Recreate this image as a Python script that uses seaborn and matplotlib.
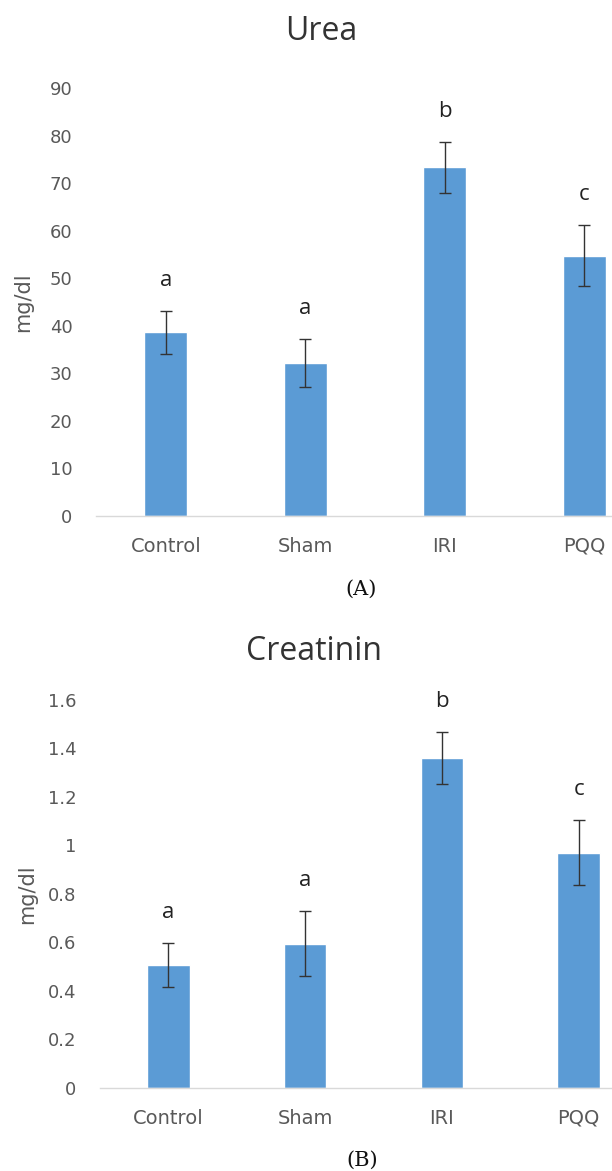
import matplotlib
matplotlib.use("Agg")
import matplotlib.pyplot as plt
from matplotlib.ticker import FuncFormatter
import seaborn as sns

# Group names and measured serum values (mean and spread)
groups = ["Control", "Sham", "IRI", "PQQ"]
urea_mean = [38.6, 32.2, 73.3, 54.7]
urea_err = [4.5, 5.0, 5.4, 6.4]
urea_letters = ["a", "a", "b", "c"]
creat_mean = [0.506, 0.594, 1.362, 0.970]
creat_err = [0.092, 0.135, 0.107, 0.135]
creat_letters = ["a", "a", "b", "c"]

urea_ticks = [0, 10, 20, 30, 40, 50, 60, 70, 80, 90]
creat_ticks = [0, 0.2, 0.4, 0.6, 0.8, 1.0, 1.2, 1.4, 1.6]

sns.set_theme(style="white")
plt.rcParams["font.family"] = ["Open Sans", "DejaVu Sans"]

BAR = "#5B9BD5"
TICK = "#595959"
W, H = 612, 1171
fig = plt.figure(figsize=(W / 100, H / 100), dpi=100)


def panel(rect, means, errs, letters, ticks, title, title_xy, tag, tag_xy, label_x):
    ax = fig.add_axes(rect)
    sns.barplot(x=groups, y=means, color=BAR, width=0.31, saturation=1,
                ax=ax, errorbar=None)
    ax.errorbar(x=list(range(len(groups))), y=means, yerr=errs, fmt="none",
                ecolor="#333333", elinewidth=1.0, capsize=4.5, capthick=1.0)
    for i, (m, e, lab) in enumerate(zip(means, errs, letters)):
        ax.annotate(lab, xy=(i, m + e), xytext=(0, 22), textcoords="offset points",
                    ha="center", va="center", fontsize=16, color="#222222")
    ax.set_xlim(-0.5, len(groups) - 0.5)
    ax.set_ylim(ticks[0], ticks[-1])
    ax.set_yticks(ticks)
    ax.yaxis.set_major_formatter(FuncFormatter(lambda v, p: f"{v:g}"))
    ax.tick_params(axis="y", length=0, pad=17, labelsize=13, labelcolor=TICK)
    ax.tick_params(axis="x", length=0, pad=15, labelsize=14, labelcolor=TICK)
    for lbl in ax.get_xticklabels() + ax.get_yticklabels():
        lbl.set_family("DejaVu Sans")
    ax.set_ylabel("mg/dl", fontsize=15, color=TICK, family="DejaVu Sans")
    ax.yaxis.set_label_coords(label_x, 0.5)
    ax.set_xlabel("")
    for s in ("top", "right", "left"):
        ax.spines[s].set_visible(False)
    ax.spines["bottom"].set_color("#D9D9D9")
    ax.spines["bottom"].set_linewidth(1.0)
    ax.grid(False)
    fig.text(title_xy[0] / W, 1 - title_xy[1] / H, title, ha="center", va="center",
             fontsize=23, color="#333333")
    fig.text(tag_xy[0] / W, 1 - tag_xy[1] / H, tag, ha="center", va="center",
             fontsize=15, color="#111111", family="DejaVu Serif")
    return ax


panel([96 / W, 655 / H, 558 / W, 428 / H], urea_mean, urea_err, urea_letters,
      urea_ticks, "Urea", (321, 31), "(A)", (361, 589), -0.113)
panel([100 / W, 83.3 / H, 547 / W, 387.7 / H], creat_mean, creat_err, creat_letters,
      creat_ticks, "Creatinin", (314, 652), "(B)", (362, 1160), -0.115)

fig.savefig("out.png", dpi=100, facecolor="white")
